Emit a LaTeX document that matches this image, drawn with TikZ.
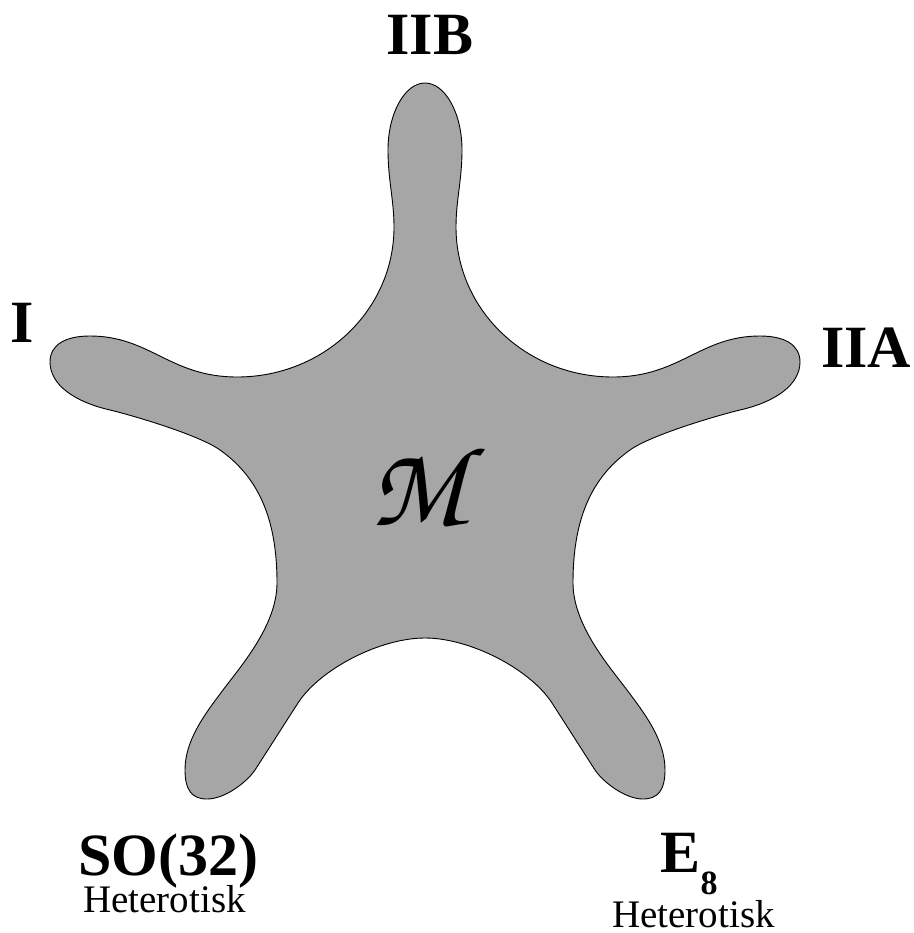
\documentclass[tikz,border=0pt]{standalone}
\usepackage{fontspec}
\setmainfont{Liberation Serif}
\definecolor{blobgray}{RGB}{166,166,166}
\tikzset{
  blob/.style={draw=black, line width=0.9pt, fill=blobgray},
  biglabel/.style={inner sep=0pt, font=\fontsize{60}{60}\selectfont\bfseries},
  smalllabel/.style={inner sep=0pt, font=\fontsize{39}{39}\selectfont},
  mlabel/.style={inner sep=0pt, font=\fontsize{114}{114}\usefont{OT1}{pzc}{mb}{it}}
}
\begin{document}
\begin{tikzpicture}[x=1pt,y=-1pt]
\useasboundingbox (0,0) rectangle (913,933);
\draw[blob] (425,83)
  .. controls (445,83) and (462,113) .. (462,150)
  .. controls (462,180) and (456,200) .. (456,227)
  .. controls (456,310) and (526,377) .. (613,377)
  .. controls (680,377) and (700,336) .. (760,336)
  .. controls (785,336) and (800,345) .. (800,362)
  .. controls (800,385) and (775,402) .. (740,410)
  .. controls (715,416) and (650,435.5) .. (630,450)
  .. controls (589,479) and (573,523) .. (573,583)
  .. controls (573,625) and (609,666) .. (627,690)
  .. controls (645,714) and (665,740) .. (665,770)
  .. controls (665,790) and (658,799) .. (643,799)
  .. controls (625,799) and (603,782) .. (595,770)
  .. controls (584,753) and (563,720) .. (552,703)
  .. controls (530,669) and (470,638) .. (425,638)
  .. controls (380,638) and (320,669) .. (298,703)
  .. controls (287,720) and (266,753) .. (255,770)
  .. controls (247,782) and (225,799) .. (207,799)
  .. controls (192,799) and (185,790) .. (185,770)
  .. controls (185,740) and (205,714) .. (223,690)
  .. controls (241,666) and (277,625) .. (277,583)
  .. controls (277,523) and (261,479) .. (220,450)
  .. controls (200,435.5) and (135,416) .. (110,410)
  .. controls (75,402) and (50,385) .. (50,362)
  .. controls (50,345) and (65,336) .. (90,336)
  .. controls (150,336) and (170,377) .. (237,377)
  .. controls (324,377) and (394,310) .. (394,227)
  .. controls (394,200) and (388,180) .. (388,150)
  .. controls (388,113) and (405,83) .. (425,83)
  -- cycle;
\node[mlabel] (m) at (418,485) {M};
\node[biglabel, anchor=base] (iib) at (430,55) {IIB};
\node[biglabel, anchor=base] (i) at (22,342) {I};
\node[biglabel, anchor=base west] (iia) at (821,367) {IIA};
\node[biglabel, anchor=base west] (so) at (78,875) {SO(32)};
\node[smalllabel, anchor=base west] (het1) at (83,912) {Heterotisk};
\node[biglabel, anchor=base west] (e) at (660,872) {E};
\node[inner sep=0pt, anchor=base west, font=\fontsize{34}{34}\selectfont\bfseries] (eight) at (e.base east) [yshift=-22pt] {8};
\node[smalllabel, anchor=base west] (het2) at (612,927) {Heterotisk};
\end{tikzpicture}
\end{document}
